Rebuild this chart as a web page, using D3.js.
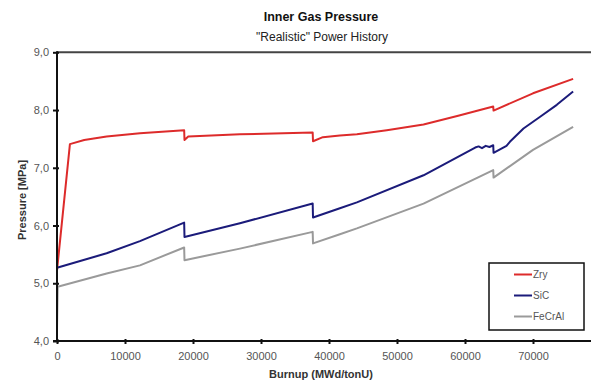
<!DOCTYPE html>
<html>
<head>
<meta charset="utf-8">
<script src="https://cdn.jsdelivr.net/npm/d3@7"></script>
<style>
  html, body { margin: 0; padding: 0; background: #fff; }
  svg { display: block; font-family: "Liberation Sans", Arial, sans-serif; }
</style>
</head>
<body>
<svg id="chart" width="591" height="383"></svg>
<script>
// Burnup (MWd/tonU) and inner gas pressure (MPa) for each cladding type
const zryBurnup = [0, 1900, 4000, 7300, 12200, 18700, 18750, 19300, 26900, 37600, 37650, 39100, 41600, 44100, 48500, 53900, 59000, 64150, 64200, 70000, 75900];
const zryPressure = [5.22, 7.41, 7.48, 7.54, 7.60, 7.65, 7.48, 7.54, 7.58, 7.61, 7.46, 7.53, 7.56, 7.58, 7.65, 7.75, 7.90, 8.06, 7.99, 8.29, 8.54];

const sicBurnup = [0, 7300, 12200, 18700, 18750, 26900, 37600, 37650, 41600, 44100, 53900, 61500, 62000, 62500, 63050, 63600, 64150, 64200, 66100, 66600, 68600, 71000, 73500, 75900];
const sicPressure = [5.27, 5.52, 5.73, 6.05, 5.80, 6.04, 6.38, 6.14, 6.30, 6.40, 6.87, 7.35, 7.37, 7.34, 7.38, 7.36, 7.39, 7.26, 7.38, 7.45, 7.68, 7.88, 8.09, 8.32];

const fecralBurnup = [0, 100, 7300, 12200, 18700, 18750, 26900, 37600, 37650, 41600, 44100, 53900, 64150, 64200, 70000, 75900];
const fecralPressure = [4.20, 4.94, 5.17, 5.31, 5.62, 5.40, 5.60, 5.89, 5.69, 5.85, 5.95, 6.38, 6.96, 6.83, 7.31, 7.71];

const seriesNames = ["Zry", "SiC", "FeCrAl"];
const seriesColors = ["#dd2b2b", "#1b1b7a", "#9a9a9a"];

const xTicks = [0, 10000, 20000, 30000, 40000, 50000, 60000, 70000];
const yTicks = [4, 5, 6, 7, 8, 9];

const titleText = "Inner Gas Pressure";
const subtitleText = "\"Realistic\" Power History";
const xTitle = "Burnup (MWd/tonU)";
const yTitle = "Pressure [MPa]";

const series = [
  { name: seriesNames[0], color: seriesColors[0], values: zryBurnup.map((b, i) => [b, zryPressure[i]]) },
  { name: seriesNames[1], color: seriesColors[1], values: sicBurnup.map((b, i) => [b, sicPressure[i]]) },
  { name: seriesNames[2], color: seriesColors[2], values: fecralBurnup.map((b, i) => [b, fecralPressure[i]]) }
];

const svg = d3.select("#chart");

const x = d3.scaleLinear().domain([0, 80000]).range([57, 601]);
const y = d3.scaleLinear().domain([4, 9]).range([341, 52.3]);

// Titles
svg.append("text")
  .attr("x", 321).attr("y", 21)
  .attr("text-anchor", "middle")
  .attr("font-size", 12.5).attr("font-weight", "bold").attr("fill", "#111")
  .text(titleText);
svg.append("text")
  .attr("x", 322).attr("y", 41)
  .attr("text-anchor", "middle")
  .attr("font-size", 12).attr("fill", "#222")
  .text(subtitleText);

// Top border of the plot area
svg.append("line")
  .attr("x1", x(0)).attr("x2", 591)
  .attr("y1", y(9)).attr("y2", y(9))
  .attr("stroke", "#444").attr("stroke-width", 2);

// Series
const line = d3.line().x(d => x(d[0])).y(d => y(d[1]));
svg.append("g").selectAll("path")
  .data(series)
  .join("path")
  .attr("d", d => line(d.values))
  .attr("fill", "none")
  .attr("stroke", d => d.color)
  .attr("stroke-width", 2)
  .attr("stroke-linejoin", "round");

// Axes
const xAxis = d3.axisBottom(x).tickValues(xTicks).tickSize(4).tickFormat(d3.format("d"));
const gx = svg.append("g").attr("transform", `translate(0,${y(4)})`).call(xAxis);
gx.select(".domain").remove();
gx.append("line").attr("x1", x(0) - 4).attr("x2", 591).attr("stroke", "#111").attr("stroke-width", 2);
gx.selectAll(".tick line").attr("y1", -2).attr("y2", 3).attr("stroke", "#111").attr("stroke-width", 2);
gx.selectAll(".tick text").attr("y", 11).attr("font-size", 11).attr("fill", "#555")
  .attr("font-family", "Liberation Sans, Arial, sans-serif");

const yAxis = d3.axisLeft(y).tickValues(yTicks).tickSize(4).tickFormat(d => d3.format(".1f")(d).replace(".", ","));
const gy = svg.append("g").attr("transform", `translate(${x(0)},0)`).call(yAxis);
gy.select(".domain").remove();
gy.append("line").attr("y1", y(9) - 1).attr("y2", y(4) + 1).attr("stroke", "#111").attr("stroke-width", 2);
gy.selectAll(".tick line").attr("x1", -4).attr("x2", 2).attr("stroke", "#111").attr("stroke-width", 2);
gy.selectAll(".tick text").attr("x", -8).attr("font-size", 11).attr("fill", "#555")
  .attr("font-family", "Liberation Sans, Arial, sans-serif");

// Axis titles
svg.append("text")
  .attr("x", 321).attr("y", 378)
  .attr("text-anchor", "middle")
  .attr("font-size", 11).attr("font-weight", "bold").attr("fill", "#333")
  .text(xTitle);
svg.append("text")
  .attr("transform", "translate(26,200) rotate(-90)")
  .attr("text-anchor", "middle")
  .attr("font-size", 11).attr("font-weight", "bold").attr("fill", "#333")
  .text(yTitle);

// Legend
const legend = svg.append("g");
legend.append("rect")
  .attr("x", 489).attr("y", 263).attr("width", 95).attr("height", 67)
  .attr("fill", "#fff").attr("stroke", "#111").attr("stroke-width", 1.5);
const items = legend.selectAll("g.item").data(series).join("g")
  .attr("class", "item")
  .attr("transform", (d, i) => `translate(0,${274.5 + i * 21})`);
items.append("line")
  .attr("x1", 514).attr("x2", 532)
  .attr("stroke", d => d.color).attr("stroke-width", 2);
items.append("text")
  .attr("x", 533).attr("y", 3.5)
  .attr("font-size", 10).attr("fill", "#555")
  .text(d => d.name);
</script>
</body>
</html>
